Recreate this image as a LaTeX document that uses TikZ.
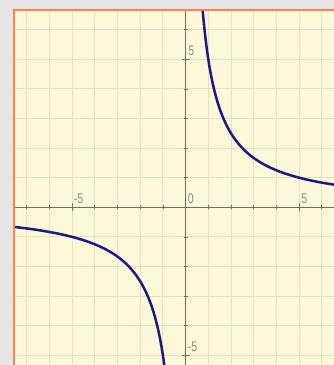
\documentclass[tikz,border=0pt]{standalone}
\usepackage{fontspec}
\newfontfamily\lblfont[FakeStretch=0.75]{Liberation Sans}
\definecolor{outer}{HTML}{E6E6E6}
\definecolor{paper}{HTML}{FDF8D9}
\definecolor{gridc}{HTML}{E8E0BC}
\definecolor{axisc}{HTML}{6E6E5A}
\definecolor{lblc}{HTML}{8C8C7C}
\definecolor{edgec}{HTML}{FF7F50}
\definecolor{curvec}{HTML}{1A1A86}
\begin{document}
\begin{tikzpicture}[x=22.7pt,y=29.6pt,
  gridline/.style={gridc,line width=0.8pt},
  axisline/.style={axisc,line width=0.7pt},
  ticklbl/.style={lblc,font=\lblfont\fontsize{14}{14}\selectfont,inner sep=0pt},
  curveline/.style={curvec,line width=2.5pt}]
\useasboundingbox (-8.176,-5.328) rectangle (6.537,7.003);
\fill[outer] (-8.176,-5.328) rectangle (6.537,7.003);
\fill[paper] (-7.56,-5.4) rectangle (6.6,6.666);
\begin{scope}
\clip (-7.56,-5.4) rectangle (6.6,6.666);
\foreach \i in {-7,...,6} \draw[gridline] (\i,-5.4) -- (\i,6.7);
\foreach \j in {-5,...,6} \draw[gridline] (-7.6,\j) -- (6.6,\j);
\draw[axisline] (-7.6,0) -- (6.6,0);
\draw[axisline] (0,-5.4) -- (0,6.7);
\foreach \i in {-7,...,6} \draw[axisline] (\i,-2pt) -- (\i,2pt);
\foreach \j in {-5,...,6} \draw[axisline] (-2pt,\j) -- (2pt,\j);
\draw[axisline] (-5,-4pt) -- (-5,4pt);
\draw[axisline] (5,-4pt) -- (5,4pt);
\draw[axisline] (-4pt,5) -- (4pt,5);
\draw[axisline] (-4pt,-5) -- (4pt,-5);
\draw[curveline] plot[domain=0.74:6.6,samples=120,smooth] (\x,{5/\x});
\draw[curveline] plot[domain=-7.6:-0.92,samples=120,smooth] (\x,{5/\x});
\end{scope}
\draw[edgec,line width=1.5pt] (-7.56,-5.4) -- (-7.56,6.666) -- (6.6,6.666);
\node[ticklbl,anchor=south west] (xm5) at ([xshift=1.5pt,yshift=3pt]-5,0) {-5};
\node[ticklbl,anchor=south west] (x0) at ([xshift=2pt,yshift=3pt]0,0) {0};
\node[ticklbl,anchor=south west] (x5) at ([xshift=2pt,yshift=3pt]5,0) {5};
\node[ticklbl,anchor=south west] (y5) at ([xshift=2.5pt,yshift=3pt]0,5) {5};
\node[ticklbl,anchor=south west] (ym5) at ([xshift=2pt,yshift=3pt]0,-5) {-5};
\end{tikzpicture}
\end{document}
